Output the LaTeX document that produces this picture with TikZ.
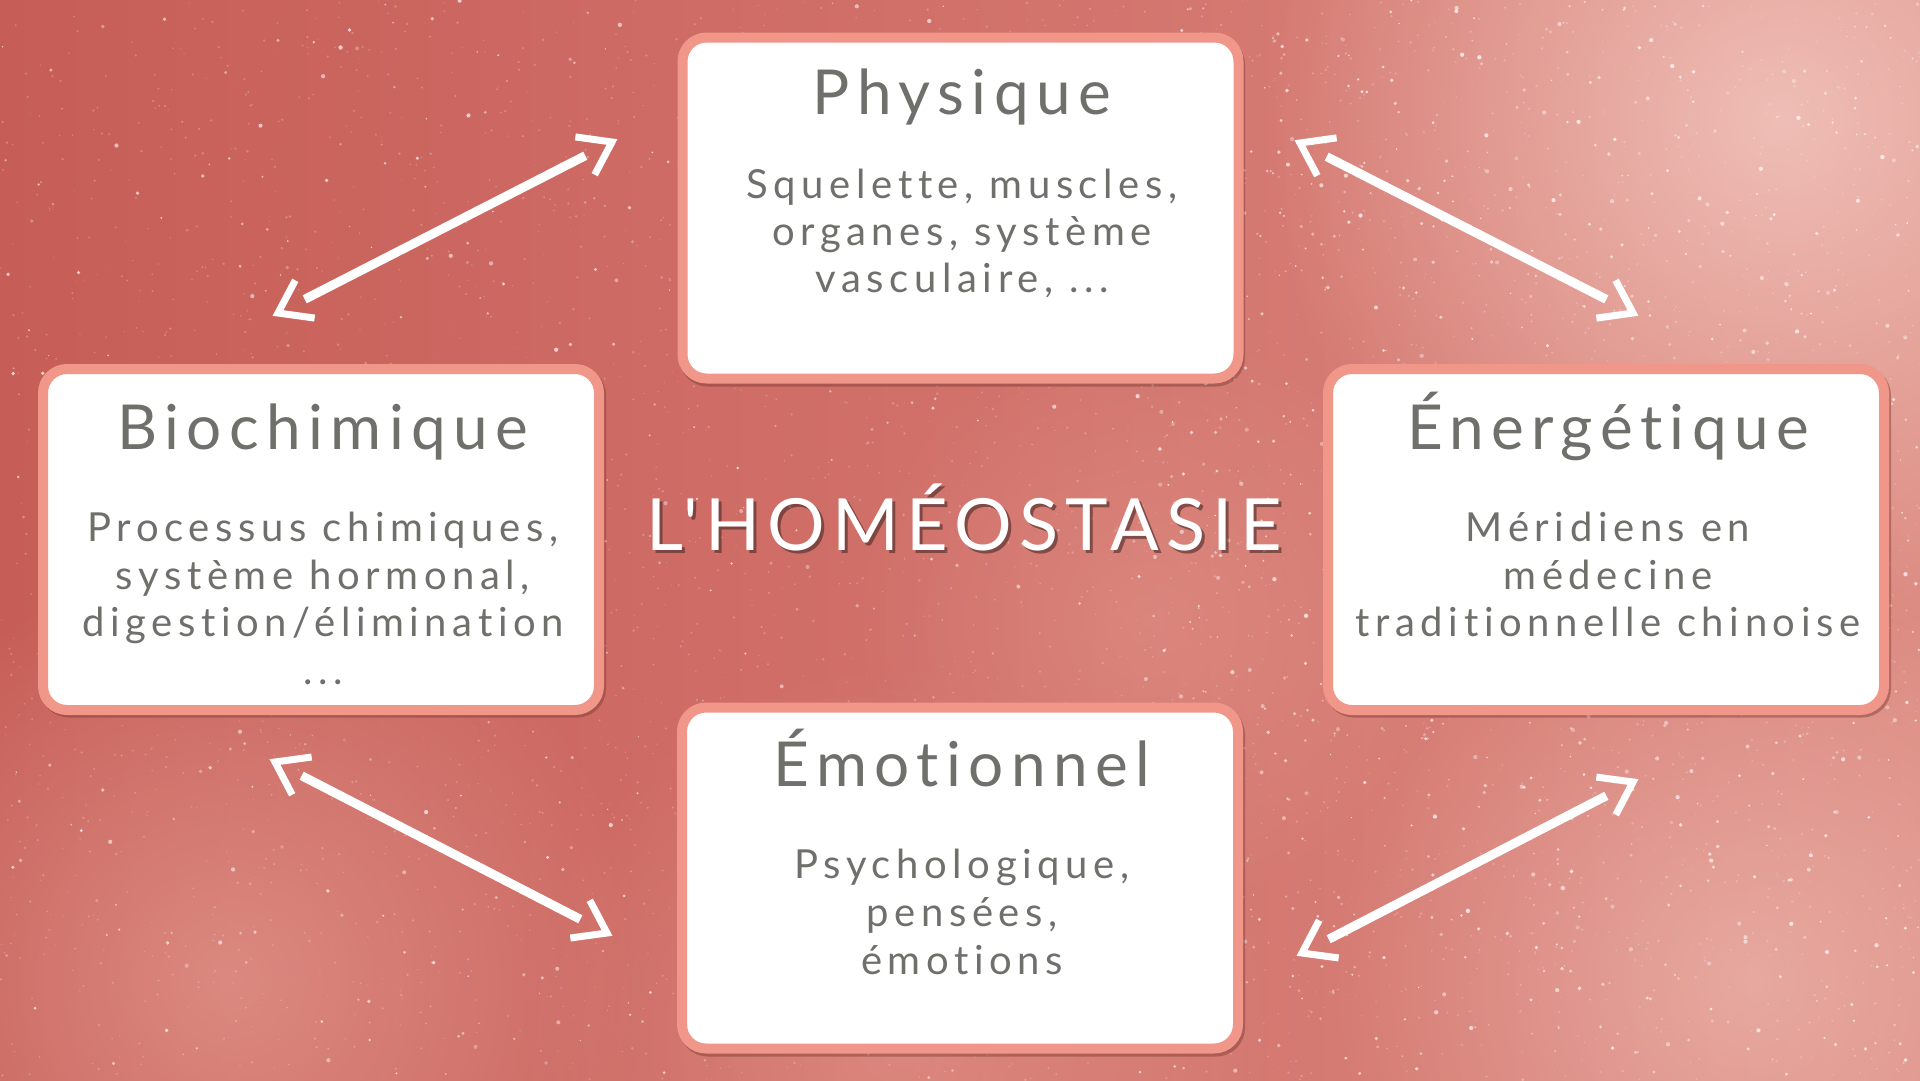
\documentclass[tikz,border=0pt]{standalone}
\usepackage{fontspec}
\usetikzlibrary{calc,fadings}
\tikzfading[name=blobfade, inner color=transparent!0, outer color=transparent!100]
\newfontfamily\cardheadfont[LetterSpace=12,Ligatures=NoCommon]{Lato}
\newfontfamily\cardbodyfont[LetterSpace=14,Ligatures=NoCommon]{Lato}
\newfontfamily\centerfont[LetterSpace=10,Ligatures=NoCommon]{Lato}
\definecolor{bgL}{HTML}{C65E57}
\definecolor{bgM}{HTML}{D1716A}
\definecolor{bgR}{HTML}{DC8A80}
\definecolor{blobA}{HTML}{F4CCC4}
\definecolor{blobB}{HTML}{E8A49A}
\definecolor{cardline}{HTML}{F09789}
\definecolor{cardshadow}{HTML}{7A3A33}
\definecolor{txt}{HTML}{6F6F6C}
\definecolor{tshadow}{HTML}{4A2A27}
\newcommand\mydblarrow[2]{%
  \draw[arrowshaft] ($(#1)!30pt!(#2)$) -- ($(#2)!30pt!(#1)$);
  \draw[arrowbarb] ($(#2)!37pt!35:(#1)$) -- (#2) -- ($(#2)!37pt!-35:(#1)$);
  \draw[arrowbarb] ($(#1)!37pt!35:(#2)$) -- (#1) -- ($(#1)!37pt!-35:(#2)$);
}
\begin{document}
\begin{tikzpicture}[x=1pt,y=-1pt,
  card/.style={draw=cardline, line width=10pt, fill=white, rounded corners=24pt,
    minimum width=556pt, minimum height=341pt, inner sep=0pt},
  cardshade/.style={draw=cardshadow, line width=10pt, fill=cardshadow, rounded corners=24pt,
    minimum width=556pt, minimum height=341pt, inner sep=0pt, opacity=0.45},
  cardtitle/.style={font=\cardheadfont\fontsize{62}{74}\selectfont, text=txt, anchor=base, inner sep=0pt},
  cardtext/.style={font=\cardbodyfont\fontsize{40}{48}\selectfont, text=txt, anchor=base, inner sep=0pt},
  bigtitle/.style={font=\centerfont\fontsize{72}{86}\selectfont, anchor=base, inner sep=0pt},
  arrowshaft/.style={draw=white, line width=9pt, line cap=butt},
  arrowbarb/.style={draw=white, line width=7pt, line cap=butt, line join=miter},
]
\useasboundingbox (0,0) rectangle (1920,1080);
% background
\shade[left color=bgL, right color=bgR, middle color=bgM] (0,0) rectangle (1920,1080);
\fill[blobA, path fading=blobfade, opacity=0.8] (1780,120) circle (520pt);
\fill[blobB, path fading=blobfade, opacity=0.6] (230,980) circle (420pt);
\fill[blobB, path fading=blobfade, opacity=0.45] (900,1040) circle (380pt);
\fill[blobA, path fading=blobfade, opacity=0.5] (1750,980) circle (420pt);
\fill[blobB, path fading=blobfade, opacity=0.35] (1150,620) circle (300pt);
\pgfmathsetseed{11}
\foreach \i in {1,...,3500}{
  \pgfmathsetmacro\gx{rnd*1920}
  \pgfmathsetmacro\gy{rnd*1080}
  \pgfmathsetmacro\gr{0.5+rnd*0.9}
  \fill[white, opacity=0.22] (\gx,\gy) circle (\gr pt);
}
\foreach \i in {1,...,900}{
  \pgfmathsetmacro\gx{rnd*1920}
  \pgfmathsetmacro\gy{rnd*1080}
  \pgfmathsetmacro\gr{0.6+rnd*1.6}
  \pgfmathsetmacro\go{0.25+rnd*0.5}
  \fill[white, opacity=\go] (\gx,\gy) circle (\gr pt);
}
\foreach \i in {1,...,800}{
  \pgfmathsetmacro\gx{1150+rnd*770}
  \pgfmathsetmacro\gy{rnd*1080}
  \pgfmathsetmacro\gr{0.6+rnd*1.6}
  \pgfmathsetmacro\go{0.25+rnd*0.5}
  \fill[white, opacity=\go] (\gx,\gy) circle (\gr pt);
}
% cards
\node[cardshade] (physS) at (962,211) {};
\node[cardshade] (bioS) at (323,542) {};
\node[cardshade] (eneS) at (1608,542) {};
\node[cardshade] (emoS) at (962,881) {};
\node[card] (phys) at (960.5,208) {};
\node[card] (bio) at (321,539.5) {};
\node[card] (ene) at (1606,539.5) {};
\node[card] (emo) at (960,878) {};
% card texts
\node[cardtitle] (physT) at (962,114) {Physique};
\node[cardtext] (physL1) at (962,198) {Squelette, muscles,};
\node[cardtext] (physL2) at (962,245) {organes, système};
\node[cardtext] (physL3) at (962,292) {vasculaire, ...};
\node[cardtitle] (bioT) at (323,449) {Biochimique};
\node[cardtext] (bioL1) at (323,541) {Processus chimiques,};
\node[cardtext] (bioL2) at (323,589) {système hormonal,};
\node[cardtext] (bioL3) at (323,636) {digestion/élimination};
\node[cardtext] (bioL4) at (323,684) {...};
\node[cardtitle] (eneT) at (1608,449) {Énergétique};
\node[cardtext] (eneL1) at (1608,541) {Méridiens en};
\node[cardtext] (eneL2) at (1608,589) {médecine};
\node[cardtext] (eneL3) at (1608,636) {traditionnelle chinoise};
\node[cardtitle] (emoT) at (962,786) {Émotionnel};
\node[cardtext] (emoL1) at (962,878) {Psychologique,};
\node[cardtext] (emoL2) at (962,926) {pensées,};
\node[cardtext] (emoL3) at (962,974) {émotions};
% center title
\node[bigtitle, text=tshadow, opacity=0.6] (homS) at (967,553) {L'HOMÉOSTASIE};
\node[bigtitle, text=white] (hom) at (964,550) {L'HOMÉOSTASIE};
% arrows
\coordinate (a1s) at (278,313); \coordinate (a1e) at (612,142);
\coordinate (a2s) at (1300,143); \coordinate (a2e) at (1633,313);
\coordinate (a3s) at (275,762); \coordinate (a3e) at (607,933);
\coordinate (a4s) at (1302,953); \coordinate (a4e) at (1633,782);
\mydblarrow{a1s}{a1e}
\mydblarrow{a2s}{a2e}
\mydblarrow{a3s}{a3e}
\mydblarrow{a4s}{a4e}
\end{tikzpicture}
\end{document}
